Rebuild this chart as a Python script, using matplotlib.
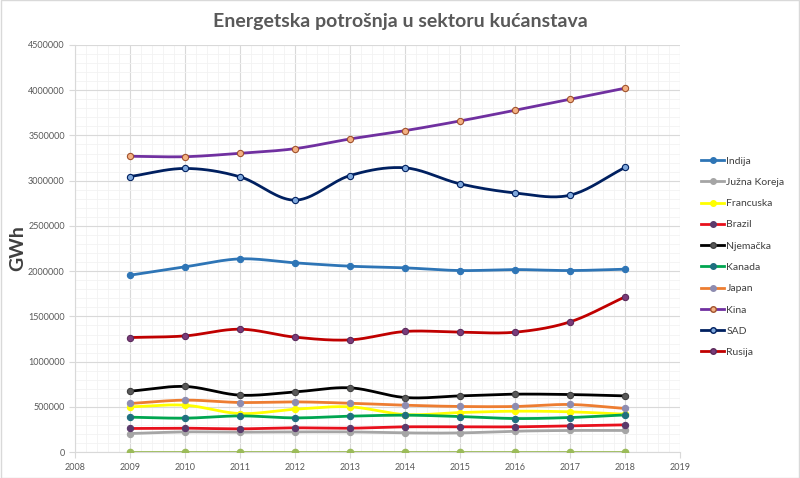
import numpy as np
import matplotlib
matplotlib.use('Agg')
import matplotlib.pyplot as plt
from matplotlib.ticker import MultipleLocator, FormatStrFormatter

plt.rcParams['font.family'] = ['Lato', 'DejaVu Sans']

# Podaci (GWh)
godine = [2009, 2010, 2011, 2012, 2013, 2014, 2015, 2016, 2017, 2018]

indija = [1956000, 2048000, 2136000, 2092000, 2055000, 2037000, 2007000, 2018000, 2007000, 2022000]
juzna_koreja = [206000, 224000, 221000, 224000, 224000, 213000, 213000, 232000, 240000, 240000]
francuska = [501000, 519000, 427000, 475000, 501000, 416000, 438000, 453000, 446000, 420000]
brazil = [262000, 265000, 258000, 269000, 265000, 280000, 280000, 280000, 291000, 302000]
njemacka = [674000, 726000, 630000, 666000, 711000, 604000, 622000, 641000, 637000, 622000]
kanada = [387000, 376000, 401000, 379000, 398000, 409000, 394000, 372000, 383000, 412000]
japan = [538000, 575000, 549000, 556000, 541000, 519000, 505000, 505000, 527000, 483000]
kina = [3270000, 3265000, 3303000, 3354000, 3461000, 3553000, 3660000, 3778000, 3900000, 4022000]
sad = [3046000, 3135000, 3042000, 2785000, 3057000, 3142000, 2965000, 2865000, 2840000, 3146000]
rusija = [1267000, 1285000, 1359000, 1271000, 1241000, 1334000, 1326000, 1326000, 1440000, 1716000]
nula = [0, 0, 0, 0, 0, 0, 0, 0, 0, 0]

nazivi = ['Indija', 'Južna Koreja', 'Francuska', 'Brazil', 'Njemačka',
          'Kanada', 'Japan', 'Kina', 'SAD', 'Rusija']
serije = [indija, juzna_koreja, francuska, brazil, njemacka,
          kanada, japan, kina, sad, rusija]
# (boja linije, ispuna markera, rub markera)
stilovi = [
    ('#2E75B6', '#2E75B6', '#2E75B6'),
    ('#A5A5A5', '#A5A5A5', '#A5A5A5'),
    ('#FFFF00', '#FFFF00', '#FFFF00'),
    ('#E8101C', '#5A3A6B', '#5A3A6B'),
    ('#000000', '#595959', '#404040'),
    ('#00A650', '#1F6F80', '#1F6F80'),
    ('#ED7D31', '#8E8CB0', '#8E8CB0'),
    ('#7030A0', '#F4B183', '#A0522D'),
    ('#002060', '#7FA8DC', '#002060'),
    ('#C00000', '#7A3B7A', '#5A2A5A'),
]


def glatko(x, y, n=20):
    # Catmull-Rom krivulja kroz točke (kao "smoothed line" u Excelu)
    x = np.asarray(x, float)
    y = np.asarray(y, float)
    px = np.concatenate([[2 * x[0] - x[1]], x, [2 * x[-1] - x[-2]]])
    py = np.concatenate([[2 * y[0] - y[1]], y, [2 * y[-1] - y[-2]]])
    xs, ys = [], []
    t = np.linspace(0, 1, n, endpoint=False)
    for i in range(1, len(px) - 2):
        for p, out in ((px, xs), (py, ys)):
            p0, p1, p2, p3 = p[i - 1], p[i], p[i + 1], p[i + 2]
            out.extend(0.5 * (2 * p1 + (-p0 + p2) * t
                              + (2 * p0 - 5 * p1 + 4 * p2 - p3) * t ** 2
                              + (-p0 + 3 * p1 - 3 * p2 + p3) * t ** 3))
    xs.append(x[-1])
    ys.append(y[-1])
    return xs, ys


fig = plt.figure(figsize=(8, 4.78), dpi=100)
ax = fig.add_axes([0.094, 0.054, 0.756, 0.852])

# linija na nuli (bez legende)
gx, gy = glatko(godine, nula)
ax.plot(gx, gy, color='#9BBB59', lw=2, zorder=3)
ax.plot(godine, nula, 'o', color='#9BBB59', ms=4.5, zorder=4)

for naziv, vrijednosti, (boja, ispuna, rub) in zip(nazivi, serije, stilovi):
    gx, gy = glatko(godine, vrijednosti)
    ax.plot(gx, gy, color=boja, lw=2, zorder=3)
    ax.plot(godine, vrijednosti, 'o', ms=4.5, mfc=ispuna, mec=rub, mew=0.8, zorder=4)
    ax.plot([], [], color=boja, lw=2, marker='o', ms=4, mfc=ispuna, mec=rub,
            label=naziv)

ax.set_xlim(2008, 2019)
ax.set_ylim(0, 4500000)
ax.xaxis.set_major_locator(MultipleLocator(1))
ax.xaxis.set_minor_locator(MultipleLocator(0.2))
ax.yaxis.set_major_locator(MultipleLocator(500000))
ax.yaxis.set_minor_locator(MultipleLocator(100000))
ax.yaxis.set_major_formatter(FormatStrFormatter('%d'))
ax.grid(which='major', color='#D9D9D9', lw=0.8)
ax.grid(which='minor', color='#F2F2F2', lw=0.6)
ax.set_axisbelow(True)
for s in ax.spines.values():
    s.set_visible(False)
ax.spines['left'].set_visible(True)
ax.spines['bottom'].set_visible(True)
ax.spines['left'].set_color('#D9D9D9')
ax.spines['bottom'].set_color('#D9D9D9')
ax.tick_params(which='both', length=0, labelsize=6.5, labelcolor='#595959')
ax.tick_params(axis='x', which='major', length=4, color='#D9D9D9')
ax.tick_params(axis='y', which='major', length=4, color='#D9D9D9')

ax.set_ylabel('GWh', fontsize=14, fontweight='bold', color='#404040', labelpad=1)
fig.text(0.5, 0.955, 'Energetska potrošnja u sektoru kućanstava', ha='center',
         va='center', fontsize=14, fontweight='bold', color='#595959')

ax.legend(loc='center left', bbox_to_anchor=(1.02, 0.48), frameon=False,
          fontsize=7.5, handlelength=2.2, labelspacing=1.15, labelcolor='#404040',
          handletextpad=0.2)

fig.patches.append(plt.Rectangle((0.001, 0.001), 0.998, 0.998, transform=fig.transFigure,
                                 fill=False, edgecolor='#D9D9D9', lw=1))

fig.savefig('out.png', dpi=100)
